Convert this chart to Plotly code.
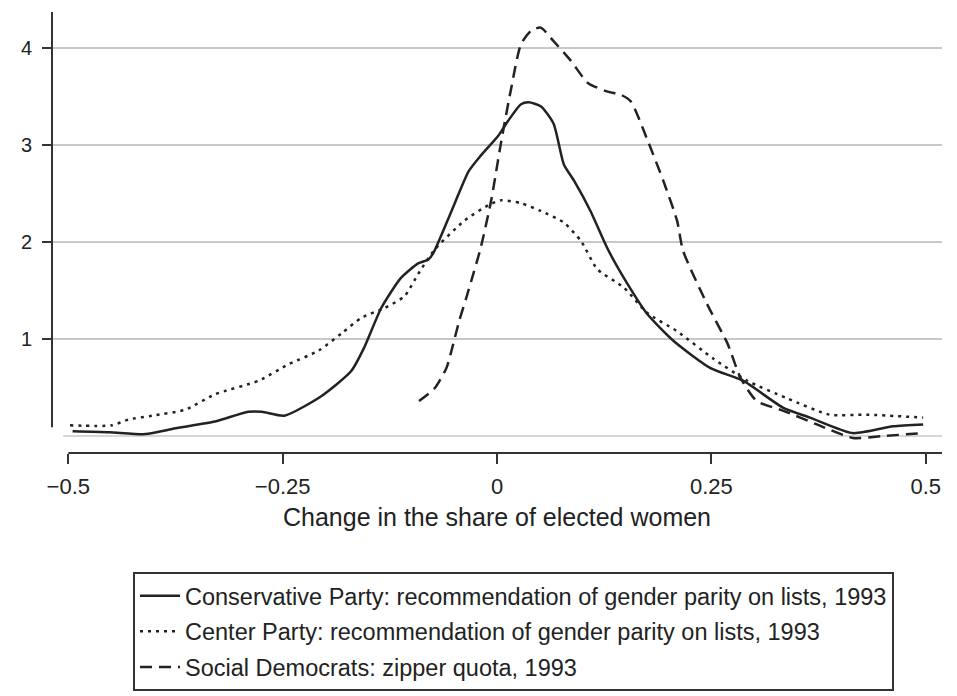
import plotly.graph_objects as go

# ---- data ----
cons_x = [-0.495, -0.452, -0.41, -0.375, -0.329, -0.29, -0.274, -0.248, -0.205, -0.17, -0.155,
          -0.135, -0.112, -0.092, -0.08, -0.074, -0.053, -0.033, -0.019, 0.001, 0.013, 0.028,
          0.037, 0.051, 0.066, 0.078, 0.09, 0.109, 0.129, 0.152, 0.175, 0.206, 0.249, 0.287,
          0.334, 0.365, 0.415, 0.462, 0.497]
cons_y = [0.05, 0.04, 0.02, 0.08, 0.15, 0.25, 0.25, 0.21, 0.41, 0.67, 0.91,
          1.32, 1.63, 1.78, 1.82, 1.89, 2.32, 2.73, 2.89, 3.09, 3.25, 3.42,
          3.44, 3.40, 3.22, 2.80, 2.63, 2.32, 1.93, 1.57, 1.26, 0.98, 0.70, 0.57,
          0.29, 0.19, 0.03, 0.10, 0.12]

center_x = [-0.498, -0.449, -0.43, -0.402, -0.364, -0.329, -0.278, -0.243, -0.208, -0.181,
            -0.158, -0.131, -0.108, -0.092, -0.073, -0.038, -0.01, 0.005, 0.028, 0.051, 0.078,
            0.098, 0.117, 0.148, 0.175, 0.21, 0.252, 0.292, 0.338, 0.388, 0.431, 0.497]
center_y = [0.11, 0.11, 0.17, 0.21, 0.27, 0.43, 0.57, 0.74, 0.88, 1.06,
            1.22, 1.32, 1.44, 1.67, 1.92, 2.22, 2.38, 2.43, 2.40, 2.32, 2.20,
            2.01, 1.72, 1.53, 1.27, 1.08, 0.80, 0.57, 0.39, 0.22, 0.22, 0.19]

sd_x = [-0.091, -0.073, -0.059, -0.051, -0.044, -0.036, -0.03, -0.019, -0.007, 0.005, 0.016,
        0.028, 0.04, 0.051, 0.066, 0.086, 0.106, 0.129, 0.144, 0.156, 0.176, 0.194, 0.21,
        0.217, 0.245, 0.269, 0.284, 0.303, 0.334, 0.373, 0.415, 0.45, 0.497]
sd_y = [0.36, 0.49, 0.70, 0.95, 1.19, 1.42, 1.60, 1.94, 2.42, 3.04, 3.56,
        4.04, 4.18, 4.21, 4.07, 3.87, 3.64, 3.55, 3.52, 3.45, 3.04, 2.63, 2.22,
        1.91, 1.36, 0.95, 0.60, 0.36, 0.26, 0.12, -0.02, 0.0, 0.03]

names = ["Conservative Party: recommendation of gender parity on lists, 1993",
         "Center Party: recommendation of gender parity on lists, 1993",
         "Social Democrats: zipper quota, 1993"]

x_tickvals = [-0.5, -0.25, 0, 0.25, 0.5]
x_ticktext = ["\u22120.5", "\u22120.25", "0", "0.25", "0.5"]
y_tickvals = [1, 2, 3, 4]
y_ticktext = ["1", "2", "3", "4"]

INK = "#222222"
FONT = "Liberation Sans, Arial, Helvetica, sans-serif"

fig = go.Figure()
series = [(cons_x, cons_y, "solid"), (center_x, center_y, "3px,5px"), (sd_x, sd_y, "12px,7px")]
for i, ((xs, ys, dash), nm) in enumerate(zip(series, names)):
    fig.add_trace(go.Scatter(
        x=xs, y=ys, mode="lines", name=nm, legendgroup=f"g{i}",
        line=dict(color=INK, width=2.5, dash=dash, shape="spline", smoothing=0.6),
    ))

W, H = 957, 696
L, R, T, B = 52, 15, 12, 243

fig.update_layout(
    width=W, height=H, autosize=False,
    margin=dict(l=L, r=R, t=T, b=B, autoexpand=False),
    paper_bgcolor="white", plot_bgcolor="white",
    font=dict(family=FONT, color=INK, size=21),
    showlegend=True,
    legend=dict(
        x=(133 - L) / (W - L - R), y=(H - B - 572) / (H - T - B),
        xanchor="left", yanchor="top",
        bgcolor="white", bordercolor="#333333", borderwidth=2,
        font=dict(size=23.5, color=INK, family=FONT),
        traceorder="grouped", tracegroupgap=2,
        itemwidth=40,
    ),
    xaxis=dict(
        range=[-0.519, 0.519], tickvals=x_tickvals, ticktext=x_ticktext,
        showgrid=False, zeroline=False, showline=False,
        ticks="outside", ticklen=10, tickwidth=2, tickcolor="#333333",
        tickfont=dict(size=22), ticklabelstandoff=4,
        title=dict(text="Change in the share of elected women", font=dict(size=25), standoff=10),
    ),
    yaxis=dict(
        range=[-0.175, 4.371], tickvals=y_tickvals, ticktext=y_ticktext,
        showgrid=True, gridcolor="#c8c8c8", gridwidth=1.5,
        zeroline=False, showline=False,
        ticks="outside", ticklen=9, tickwidth=2, tickcolor="#333333",
        tickfont=dict(size=20), ticklabelstandoff=6,
    ),
    shapes=[
        # baseline gridline at y = 0
        dict(type="line", xref="x", yref="y", x0=-0.506, x1=0.519, y0=0, y1=0,
             line=dict(color="#c8c8c8", width=1.5), layer="below"),
        # y axis line (stops short of the baseline)
        dict(type="line", xref="paper", yref="y", x0=0, x1=0, y0=0.09, y1=4.371,
             line=dict(color="#333333", width=2)),
        # x axis line, starting at the first tick
        dict(type="line", xref="x", yref="paper", x0=-0.5, x1=0.519, y0=0, y1=0,
             line=dict(color="#333333", width=2)),
    ],
)

fig.write_html("out.html")
